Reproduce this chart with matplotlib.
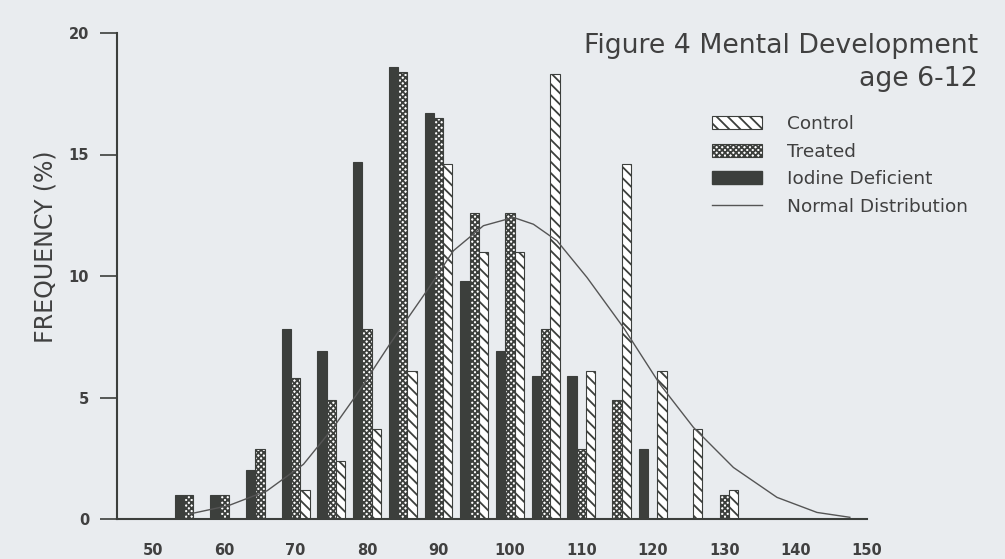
import matplotlib
matplotlib.use("Agg")
import matplotlib.pyplot as plt
from matplotlib.patches import Patch
from matplotlib.lines import Line2D

# IQ score bins (bar groups) and frequencies (%)
bins = [55, 60, 65, 70, 75, 80, 85, 90, 95, 100, 105, 110, 115, 120, 125, 130]
iodine = [1.0, 1.0, 2.0, 7.8, 6.9, 14.7, 18.6, 16.7, 9.8, 6.9, 5.9, 5.9, 0, 2.9, 0, 0]
treated = [1.0, 1.0, 2.9, 5.8, 4.9, 7.8, 18.4, 16.5, 12.6, 12.6, 7.8, 2.9, 4.9, 0, 0, 1.0]
control = [0, 0, 0, 1.2, 2.4, 3.7, 6.1, 14.6, 11.0, 11.0, 18.3, 6.1, 14.6, 6.1, 3.7, 1.2]

# normal distribution curve
curve_x = [55.2, 60.6, 66.0, 71.1, 75.3, 78.6, 83.2, 88.4, 92.1, 96.3, 100.5,
           103.3, 106.6, 110.8, 115.9, 121.0, 125.7, 131.3, 137.4, 143.0, 147.6]
curve_y = [0.21, 0.55, 1.16, 2.25, 3.77, 5.14, 7.2, 9.4, 11.04, 12.07, 12.41,
           12.13, 11.45, 9.94, 7.88, 5.55, 3.77, 2.12, 0.89, 0.27, 0.07]

xticks = [50, 60, 70, 80, 90, 100, 110, 120, 130, 140, 150]
yticks = [0, 5, 10, 15, 20]

bg = "#e9ecef"
dark = "#3c3f3c"
txt = "#404040"

plt.rcParams["hatch.linewidth"] = 1.3
plt.rcParams["font.family"] = ["DejaVu Sans"]

fig = plt.figure(figsize=(10.05, 5.59), dpi=100, facecolor=bg)
ax = fig.add_axes([117 / 1005, 1 - 519 / 559, 750 / 1005, 486 / 559])
ax.set_facecolor(bg)

w = 1.3
xs_i = [b - w for b in bins]
xs_c = [b + w for b in bins]
ax.bar(xs_i, iodine, width=w, color=dark, edgecolor=dark, linewidth=0.8)
ax.bar(bins, treated, width=w, color="white", edgecolor=dark, hatch="xxxxxx", linewidth=0.8)
ax.bar(xs_c, control, width=w, color="white", edgecolor=dark, hatch="\\\\\\", linewidth=0.8)
ax.plot(curve_x, curve_y, color="#555555", linewidth=1.0)

ax.set_xlim(45, 150)
ax.set_ylim(0, 20)
ax.set_xticks(xticks)
ax.set_yticks(yticks)
ax.spines["top"].set_visible(False)
ax.spines["right"].set_visible(False)
ax.spines["left"].set_color(dark)
ax.spines["bottom"].set_color(dark)
ax.spines["left"].set_linewidth(1.5)
ax.spines["bottom"].set_linewidth(1.5)
ax.tick_params(axis="x", length=0, pad=17, labelsize=10.5, labelcolor=txt)
ax.tick_params(axis="y", length=12, width=1.2, color=dark, pad=8, labelsize=10.5, labelcolor=txt)
for lab in ax.get_xticklabels() + ax.get_yticklabels():
    lab.set_fontweight("bold")

ax.set_ylabel("FREQUENCY (%)", fontsize=17, color=txt)
ax.yaxis.set_label_coords(-0.079, 0.56)

fig.text(978 / 1005, 1 - 46 / 559, "Figure 4 Mental Development", ha="right", va="center",
         fontsize=19.3, color=txt)
fig.text(978 / 1005, 1 - 79 / 559, "age 6-12", ha="right", va="center", fontsize=19.3,
         color=txt)

handles = [
    Patch(facecolor="white", edgecolor=dark, hatch="\\\\\\", linewidth=0.8),
    Patch(facecolor="white", edgecolor=dark, hatch="xxxxxx", linewidth=0.8),
    Patch(facecolor=dark, edgecolor=dark),
    Line2D([0], [0], color="#555555", linewidth=1.0),
]
labels = ["Control", "Treated", "Iodine Deficient", "Normal Distribution"]
fig.legend(handles, labels, loc="upper left", bbox_to_anchor=(712 / 1005, 1 - 115 / 559),
           frameon=False, fontsize=13.3, handlelength=2.7, handletextpad=1.35,
           labelspacing=0.52, borderpad=0, borderaxespad=0, labelcolor=txt)

fig.savefig("out.png", dpi=100, facecolor=bg)
